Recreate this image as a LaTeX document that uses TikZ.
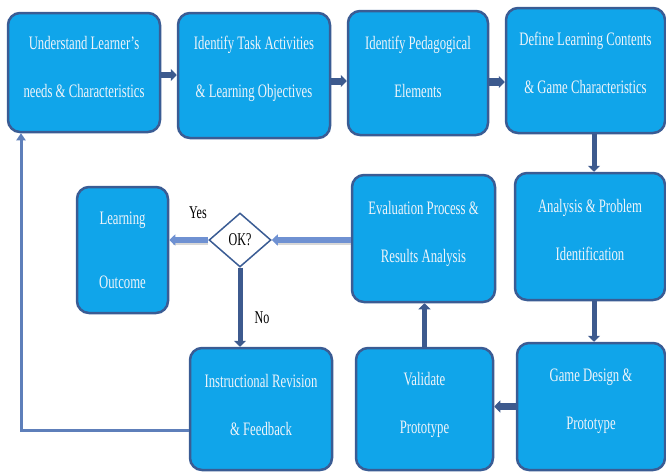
\documentclass[tikz,border=0pt]{standalone}
\usepackage{fontspec}
\setmainfont{Liberation Serif}[FakeStretch=0.67]
\usetikzlibrary{arrows.meta,shapes.geometric}
\definecolor{boxfill}{HTML}{10A5EA}
\definecolor{boxline}{HTML}{3A5C94}
\definecolor{darkarrow}{HTML}{3D5A8E}
\definecolor{lightarrow}{HTML}{6F91D2}
\definecolor{loopline}{HTML}{5E7FBA}
\definecolor{boxtext}{HTML}{EEF4FA}
% #1 extra gap, #2 first line, #3 second line, #4 upward offset of text
\newcommand\twoline[4][0pt]{\raisebox{0pt}[\height][\dimexpr\depth+#4+#4\relax]{\begin{tabular}{@{}c@{}}#2\\[#1]#3\end{tabular}}}
\tikzset{
  stagebox/.style={draw=boxline, line width=2.5pt, fill=boxfill, rounded corners=12pt,
    inner sep=0pt, text=boxtext, font=\fontsize{19}{48}\selectfont},
  darkflow/.style={draw=darkarrow, line width=6pt, -{Triangle[length=6pt,width=12pt]}},
  lightflow/.style={draw=lightarrow, line width=5.5pt, -{Triangle[length=6pt,width=11pt]}},
  flowshadow/.style={draw=black!35, line width=5pt, opacity=0.45},
  loopflow/.style={draw=loopline, line width=3pt, -{Triangle[length=7pt,width=9pt]}},
  decision/.style={diamond, draw=boxline, line width=1.5pt, fill=white, inner sep=0pt,
    minimum width=62pt, minimum height=54pt, font=\fontsize{18}{20}\selectfont},
  lbl/.style={inner sep=0pt, text=black, font=\fontsize{18}{20}\selectfont}
}
\begin{document}
\begin{tikzpicture}[x=1pt,y=-1pt]
\useasboundingbox (0,0) rectangle (666,472);

% top row
\node[stagebox, minimum width=152pt, minimum height=119pt] (b1) at (84,72.5)
  {\twoline{Understand Learner's}{needs \& Characteristics}{8.6pt}};
\node[stagebox, minimum width=152pt, minimum height=125pt] (b2) at (254,75.5)
  {\twoline{Identify Task Activities}{\& Learning Objectives}{11.6pt}};
\node[stagebox, minimum width=140pt, minimum height=124pt] (b3) at (418,73)
  {\twoline{Identify Pedagogical}{Elements}{9.6pt}};
\node[stagebox, minimum width=159pt, minimum height=125pt] (b4) at (585.5,70.5)
  {\twoline{Define Learning Contents}{\& Game Characteristics}{10.6pt}};

% middle row
\node[stagebox, minimum width=150pt, minimum height=127pt] (b5) at (590,236.5)
  {\twoline{Analysis \& Problem}{Identification}{10pt}};
\node[stagebox, minimum width=143pt, minimum height=127pt] (b6) at (423.5,238.5)
  {\twoline{Evaluation Process \&}{Results Analysis}{9.6pt}};
\node[decision] (ok) at (240,240) {OK?};
\node[stagebox, minimum width=91pt, minimum height=126pt] (b7) at (122.5,250)
  {\twoline[16pt]{Learning}{Outcome}{3.6pt}};

% bottom row
\node[stagebox, minimum width=142pt, minimum height=122pt] (b8) at (261,409)
  {\twoline{Instructional Revision}{\& Feedback}{7.6pt}};
\node[stagebox, minimum width=137pt, minimum height=122pt] (b9) at (424.5,409)
  {\twoline{Validate}{Prototype}{9.1pt}};
\node[stagebox, minimum width=148pt, minimum height=127pt] (b10) at (591,406.5)
  {\twoline{Game Design \&}{Prototype}{10.6pt}};

% labels
\node[lbl] (yes) at (198,213) {Yes};
\node[lbl] (no) at (262,318) {No};

% connectors
\draw[darkflow] (b1.east |- 0,75) -- (b2.west |- 0,75);
\draw[darkflow, line width=7pt] (b2.east |- 0,81) -- (b3.west |- 0,81);
\draw[darkflow, line width=8pt] (b3.east |- 0,82) -- (b4.west |- 0,82);
\draw[darkflow, line width=5pt] (594,0 |- b4.south) -- (594,0 |- b5.north);
\draw[darkflow, line width=5pt] (b5.south -| 594,0) -- (594,0 |- b10.north);
\draw[darkflow, line width=7pt] (b10.west) -- (b10.west -| b9.east);
\draw[darkflow, line width=5pt] (b9.north) -- (b9.north |- b6.south);

\draw[flowshadow] ([yshift=-2pt]b6.west |- ok.east) -- ([yshift=-2pt,xshift=4pt]ok.east);
\draw[lightflow] (b6.west |- ok.east) -- (ok.east);
\draw[flowshadow] ([yshift=-2pt]ok.west) -- ([yshift=-2pt,xshift=4pt]ok.west -| b7.east);
\draw[lightflow] (ok.west) -- (ok.west -| b7.east);

\draw[darkflow, line width=5pt] (ok.south) -- (ok.south |- b8.north);

\draw[loopflow] (b8.west |- 0,430) -- (21,430) -- (21,0 |- b1.south);
\end{tikzpicture}
\end{document}
